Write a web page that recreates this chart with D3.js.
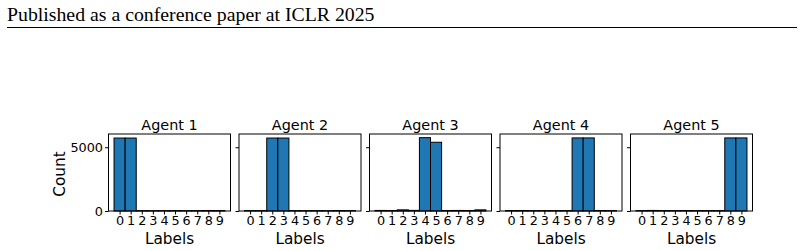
<!DOCTYPE html>
<html>
<head>
<meta charset="utf-8">
<script src="https://cdn.jsdelivr.net/npm/d3@7"></script>
<style>
  body { margin: 0; background: #fff; }
  svg text { font-family: "DejaVu Sans", sans-serif; fill: #000; }
  .header { font-family: "Liberation Serif", "Times New Roman", serif; font-size: 19.8px; }
</style>
</head>
<body>
<div id="chart"></div>
<script>
(function() {
    // label ids and per-agent counts
    var labels = [0, 1, 2, 3, 4, 5, 6, 7, 8, 9];
    var agents = ["Agent 1", "Agent 2", "Agent 3", "Agent 4", "Agent 5"];
    var agent1 = [5720, 5720, 30, 25, 25, 30, 25, 30, 40, 35];
    var agent2 = [30, 30, 5720, 5720, 30, 25, 30, 25, 35, 30];
    var agent3 = [45, 40, 90, 50, 5750, 5390, 40, 45, 40, 90];
    var agent4 = [35, 40, 30, 30, 30, 30, 5730, 5730, 40, 30];
    var agent5 = [30, 45, 35, 30, 35, 30, 30, 30, 5730, 5730];
    var counts = [agent1, agent2, agent3, agent4, agent5];
    var yTicks = [0, 5000];

    var baseWidth = 804, baseHeight = 251;

    var svg = d3.select("#chart")
        .append("svg")
            .attr("width", baseWidth)
            .attr("height", baseHeight);

    // page header like the paper
    svg.append("text")
        .classed("header", true)
        .attr("x", 7)
        .attr("y", 21)
        .text("Published as a conference paper at ICLR 2025");
    svg.append("line")
        .attr("x1", 7).attr("x2", 797)
        .attr("y1", 27.5).attr("y2", 27.5)
        .style("stroke", "#000")
        .style("stroke-width", 1);

    var panelW = 122, panelH = 77, top = 134, step = 130.5, left0 = 108.5;

    var x = d3.scaleLinear().domain([-1, 10]).range([0, panelW]);
    var yMax = d3.max(counts, function(c) { return d3.max(c); }) * 1.05;
    var y = d3.scaleLinear().domain([0, yMax]).range([panelH, 0]);

    agents.forEach(function(name, i) {
        var g = svg.append("g")
            .attr("transform", "translate(" + (left0 + i * step) + "," + top + ")");

        g.selectAll("rect.bar")
            .data(counts[i])
            .enter()
            .append("rect")
                .classed("bar", true)
                .attr("x", function(d, k) { return x(labels[k] - 0.5); })
                .attr("width", x(1) - x(0))
                .attr("y", function(d) { return y(d); })
                .attr("height", function(d) { return y(0) - y(d); })
                .style("fill", "#1f77b4")
                .style("stroke", "#000")
                .style("stroke-width", 1);

        // frame
        g.append("rect")
            .attr("width", panelW)
            .attr("height", panelH)
            .style("fill", "none")
            .style("stroke", "#000")
            .style("stroke-width", 1);

        var xAxis = g.append("g")
            .attr("transform", "translate(0," + panelH + ")")
            .call(d3.axisBottom(x).tickValues(labels).tickSize(3.5).tickPadding(1.5));
        xAxis.select(".domain").remove();
        xAxis.selectAll("text").style("font-size", "12.8px").style("font-family", "DejaVu Sans");

        var yAxis = g.append("g")
            .call(d3.axisLeft(y).tickValues(yTicks).tickSize(3.5).tickPadding(2)
                .tickFormat(i === 0 ? d3.format("d") : ""));
        yAxis.select(".domain").remove();
        yAxis.selectAll("text").style("font-size", "12.8px").style("font-family", "DejaVu Sans");

        g.append("text")
            .attr("x", panelW / 2)
            .attr("y", -4.5)
            .attr("text-anchor", "middle")
            .style("font-size", "14.4px")
            .text(name);

        g.append("text")
            .attr("x", panelW / 2)
            .attr("y", panelH + 32.5)
            .attr("text-anchor", "middle")
            .style("font-size", "15.3px")
            .text("Labels");

        if (i === 0) {
            g.append("text")
                .attr("transform", "translate(-44," + (panelH / 2 + 1.5) + ") rotate(-90)")
                .attr("text-anchor", "middle")
                .style("font-size", "15.3px")
                .text("Count");
        }
    });
})();
</script>
</body>
</html>
